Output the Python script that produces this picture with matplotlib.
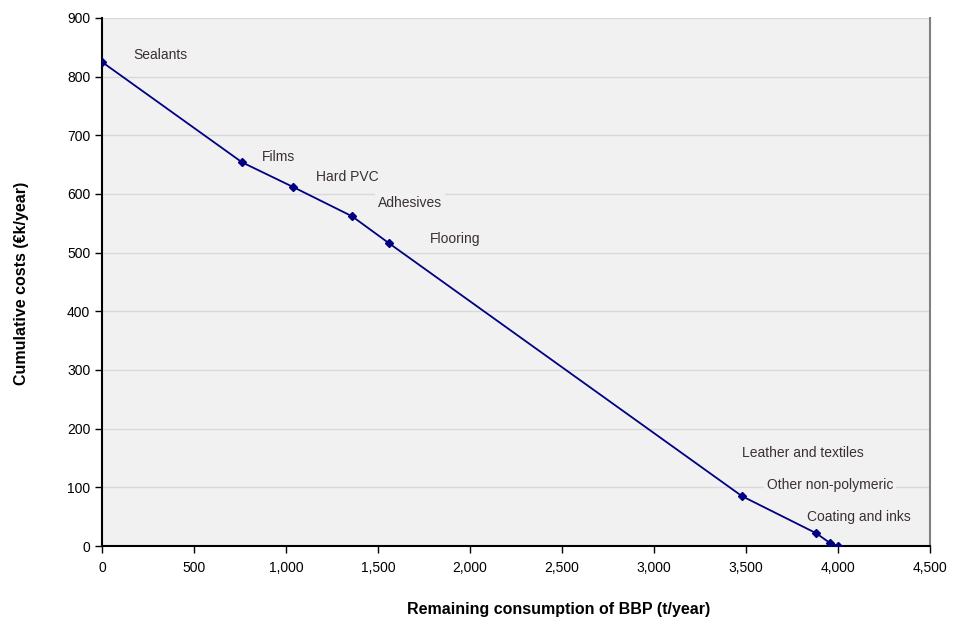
import matplotlib.pyplot as plt
from matplotlib.ticker import FuncFormatter

plt.rcParams['font.family'] = ['Liberation Sans', 'DejaVu Sans']

# data
remaining = [0, 761, 1038, 1359, 1560, 3478, 3880, 3957, 4000]
costs = [825, 654, 612, 562, 516, 85, 22, 5, 0]

labels = ['Sealants', 'Films', 'Hard PVC', 'Adhesives', 'Flooring',
          'Leather and textiles', 'Other non-polymeric', 'Coating and inks']
label_x = [168, 870, 1163, 1500, 1783, 3478, 3614, 3832]
label_y = [837, 663, 629, 585, 523, 159, 104, 49]

xticks = list(range(0, 4501, 500))
yticks = list(range(0, 901, 100))

fig = plt.figure(figsize=(9.6, 6.24), dpi=100)
ax = fig.add_axes([0.10625, 0.125, 0.8625, 0.8462])
ax.set_facecolor('#f1f1f1')

ax.plot(remaining, costs, color='#000080', lw=1.3, marker='D', ms=4.5, zorder=3)

bg = '#f1f1f1'
for t, x, y in zip(labels, label_x, label_y):
    ax.text(x, y, t, fontsize=10, color='#3a3030', va='center', ha='left',
            bbox=dict(facecolor=bg, edgecolor='none', pad=2), zorder=2)

ax.set_xlim(0, 4500)
ax.set_ylim(0, 900)
ax.set_xticks(xticks)
ax.set_yticks(yticks)
ax.xaxis.set_major_formatter(FuncFormatter(lambda v, p: f'{int(v):,}'))
ax.grid(axis='y', color='#d9d9d9', lw=1)
ax.set_axisbelow(True)

for s in ['left', 'bottom']:
    ax.spines[s].set_color('black')
    ax.spines[s].set_linewidth(1.5)
ax.spines['top'].set_visible(False)
ax.spines['right'].set_color('#808080')
ax.spines['right'].set_linewidth(1.5)

ax.tick_params(axis='both', direction='out', length=5, width=1, labelsize=10, colors='black')
ax.tick_params(axis='x', pad=6)

ax.set_xlabel('Remaining consumption of BBP (t/year)', fontsize=11.5, fontweight='bold')
ax.set_ylabel('Cumulative costs (€k/year)', fontsize=11.5, fontweight='bold')
ax.xaxis.set_label_coords(0.551, -0.106)
ax.yaxis.set_label_coords(-0.088, 0.497)

fig.savefig('out.png', dpi=100)
